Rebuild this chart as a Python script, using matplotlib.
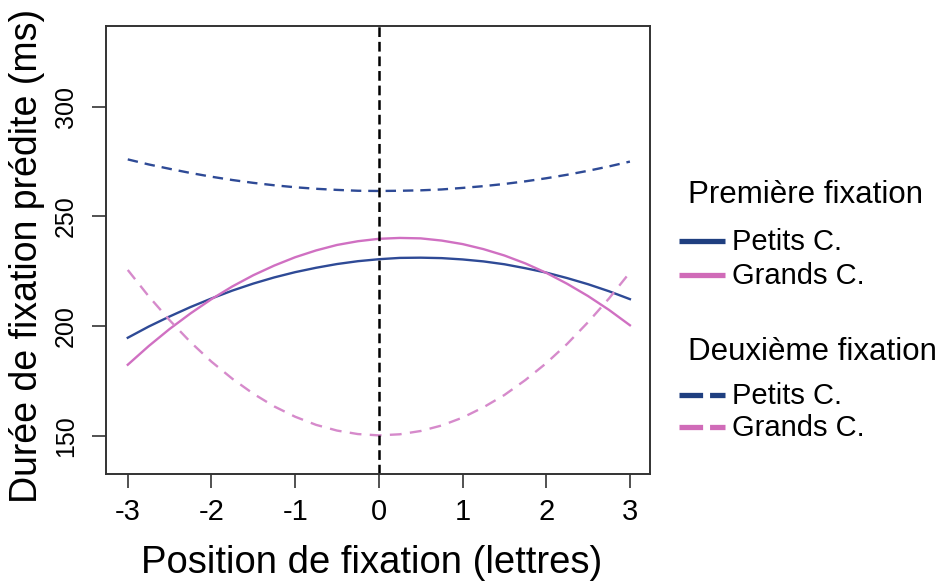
import matplotlib
matplotlib.use("Agg")
import matplotlib.pyplot as plt
from matplotlib.lines import Line2D

plt.rcParams["font.family"] = ["Liberation Sans", "DejaVu Sans"]
plt.rcParams["lines.scale_dashes"] = False

# Fixation position (letters)
position = [-3, -2.75, -2.5, -2.25, -2, -1.75, -1.5, -1.25, -1, -0.75,
            -0.5, -0.25, 0, 0.25, 0.5, 0.75, 1, 1.25, 1.5, 1.75, 2,
            2.25, 2.5, 2.75, 3]

# Predicted fixation duration (ms)
premiere_petits = [194.7, 199.8, 204.4, 208.7, 212.6, 216.2, 219.4, 222.2,
                   224.6, 226.6, 228.3, 229.6, 230.5, 231.1, 231.2, 231.0,
                   230.4, 229.5, 228.2, 226.4, 224.4, 221.9, 219.1, 215.9,
                   212.3]
premiere_grands = [182.4, 190.9, 198.7, 205.8, 212.3, 218.1, 223.2, 227.6,
                   231.4, 234.5, 237.0, 238.7, 239.8, 240.2, 240.0, 239.0,
                   237.4, 235.1, 232.2, 228.6, 224.3, 219.3, 213.7, 207.4,
                   200.4]
deuxieme_petits = [276.0, 273.7, 271.7, 269.8, 268.1, 266.6, 265.3, 264.2,
                   263.3, 262.6, 262.1, 261.7, 261.6, 261.7, 261.9, 262.3,
                   263.0, 263.8, 264.8, 266.0, 267.4, 269.0, 270.8, 272.8,
                   275.0]
deuxieme_grands = [225.6, 213.6, 202.7, 192.7, 183.8, 176.0, 169.2, 163.4,
                   158.7, 155.0, 152.4, 150.8, 150.2, 150.7, 152.2, 154.7,
                   158.3, 163.0, 168.6, 175.4, 183.1, 191.9, 201.8, 212.6,
                   224.5]

x_ticks = [-3, -2, -1, 0, 1, 2, 3]
y_ticks = [150, 200, 250, 300]
centre = 0

BLUE = "#2e4a96"
PINK = "#d070c2"
PINK_LIGHT = "#d68acb"

fig = plt.figure(figsize=(9.43, 5.85), dpi=100)
W, H = 943, 585
ax = fig.add_axes([106 / W, 1 - 474 / H, (650 - 106) / W, (474 - 26) / H])

ax.plot(position, premiere_petits, color=BLUE, lw=1.7)
ax.plot(position, premiere_grands, color=PINK, lw=1.7)
ax.plot(position, deuxieme_petits, color=BLUE, lw=1.7, dashes=(7.5, 5))
ax.plot(position, deuxieme_grands, color=PINK_LIGHT, lw=1.7, dashes=(8.5, 6))
ax.axvline(centre, color="black", lw=1.8, dashes=(7, 3.5))

ax.set_xlim(-3.26, 3.24)
ax.set_ylim(132.6, 336.8)
ax.set_xticks(x_ticks)
ax.set_xticklabels([str(t) for t in x_ticks], fontsize=21)
ax.set_yticks(y_ticks)
ax.set_yticklabels([str(t) for t in y_ticks], fontsize=18, rotation=90,
                   va="center")
ax.tick_params(axis="both", direction="out", length=10, width=1.2,
               color="#333333")
ax.tick_params(axis="x", pad=7)
ax.tick_params(axis="y", pad=10)
for s in ax.spines.values():
    s.set_linewidth(1.4)
    s.set_color("#333333")

fig.text(372 / W, 1 - 563 / H, "Position de fixation (lettres)",
         fontsize=27.5, ha="center", va="center")
fig.text(27 / W, 1 - 256 / H, "Durée de fixation prédite (ms)",
         fontsize=27, ha="center", va="center", rotation=90)

# Legend
def legend_line(y_px, color, dashed):
    kw = dict(dashes=(17, 5)) if dashed else {}
    fig.add_artist(Line2D([679 / W, 725 / W], [1 - y_px / H] * 2,
                          transform=fig.transFigure, color=color, lw=3.8,
                          solid_capstyle="butt", dash_capstyle="butt", **kw))

fig.text(688 / W, 1 - 195 / H, "Première fixation", fontsize=22.5,
         ha="left", va="center")
legend_line(241, "#1f3f80", False)
fig.text(732 / W, 1 - 242 / H, "Petits C.", fontsize=21, ha="left",
         va="center")
legend_line(275, "#d06bb8", False)
fig.text(732 / W, 1 - 276 / H, "Grands C.", fontsize=21, ha="left",
         va="center")

fig.text(688 / W, 1 - 352 / H, "Deuxième fixation", fontsize=22.5,
         ha="left", va="center")
legend_line(395, "#1f3f80", True)
fig.text(732 / W, 1 - 396 / H, "Petits C.", fontsize=21, ha="left",
         va="center")
legend_line(427, "#d06bb8", True)
fig.text(732 / W, 1 - 428 / H, "Grands C.", fontsize=21, ha="left",
         va="center")

fig.savefig("out.png", dpi=100)
